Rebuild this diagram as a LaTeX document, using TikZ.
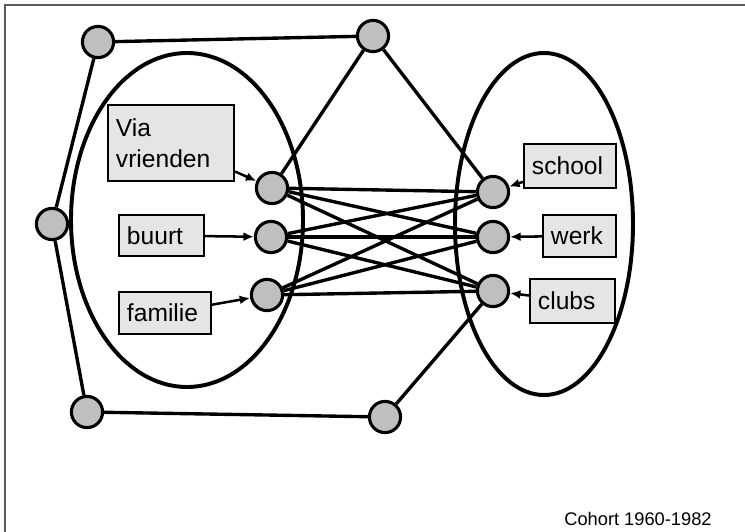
\documentclass[tikz,border=0pt]{standalone}
\usepackage{fontspec}
\setmainfont{Liberation Sans}
\usepackage{tikz}
\usetikzlibrary{arrows.meta}

\begin{document}
\begin{tikzpicture}[x=0.025cm, y=-0.025cm]

	\tikzstyle{vertex} = [circle, draw=black, line width=2.2pt, fill=gray!50, minimum size=0.78cm, inner sep=0pt]
	\tikzstyle{source_box} = [rectangle, draw=black, line width=1.5pt, fill=gray!20, align=left, inner xsep=0.2cm, inner ysep=0pt, font=\fontsize{17.5}{22}\selectfont]
	\tikzstyle{edge} = [line width=2.4pt]
	\tikzstyle{feed} = [-{Latex[length=2.6mm, width=2.2mm]}, line width=1.8pt]
	\tikzstyle{group} = [line width=2.8pt]

	\useasboundingbox (0,0) rectangle (745,532);
	\draw[gray!70!black, line width=1.2pt] (5,532) -- (5,5) -- (745,5);

%------------------------------------------------------------
	\draw[group] (187,220) ellipse [x radius=116, y radius=167];
	\draw[group] (544,224) ellipse [x radius=89, y radius=171];

%------------------------------------------------------------
	\node[vertex] (l1) at (272,188) {};
	\node[vertex] (l2) at (271,237) {};
	\node[vertex] (l3) at (267,295) {};

	\node[vertex] (r1) at (493,192) {};
	\node[vertex] (r2) at (493,237) {};
	\node[vertex] (r3) at (493,291) {};

	\node[vertex] (tl) at (98,42) {};
	\node[vertex] (tm) at (373,36) {};
	\node[vertex] (ml) at (52,224) {};
	\node[vertex] (bl) at (87,412) {};
	\node[vertex] (bm) at (385,417) {};

%------------------------------------------------------------
	\path[edge] (tl) edge (tm);
	\path[edge] (tl) edge (ml);
	\path[edge] (ml) edge (bl);
	\path[edge] (bl) edge (bm);
	\path[edge] (tm) edge (l1);
	\path[edge] (tm) edge (r1);
	\path[edge] (bm) edge (r3);

	\path[edge] (l1) edge (r1);
	\path[edge] (l1) edge (r2);
	\path[edge] (l1) edge (r3);
	\path[edge] (l2) edge (r1);
	\path[edge] (l2) edge (r2);
	\path[edge] (l2) edge (r3);
	\path[edge] (l3) edge (r1);
	\path[edge] (l3) edge (r2);
	\path[edge] (l3) edge (r3);

%------------------------------------------------------------
	\node[source_box, text width=2.75cm, minimum height=1.9cm] (via) at (171,143) {Via\\vrienden};
	\node[source_box, text width=1.725cm, minimum height=1.025cm] (buurt) at (161.5,235.5) {buurt};
	\node[source_box, text width=1.9cm, minimum height=1.05cm] (familie) at (165,313) {familie};

	\node[source_box, text width=1.9cm, minimum height=1.1cm] (school) at (570,166) {school};
	\node[source_box, text width=1.425cm, minimum height=1.05cm] (werk) at (579.5,236) {werk};
	\node[source_box, text width=1.725cm, minimum height=1.1cm] (clubs) at (572.5,301) {clubs};

	\path[feed] (via) edge (l1);
	\path[feed] (buurt) edge (l2);
	\path[feed] (familie) edge (l3);
	\path[feed] (school) edge (r1);
	\path[feed] (werk) edge (r2);
	\path[feed] (clubs) edge (r3);

%------------------------------------------------------------
	\node[font=\fontsize{13}{15}\selectfont] (cohort) at (638,519) {Cohort 1960-1982};

\end{tikzpicture}
\end{document}
